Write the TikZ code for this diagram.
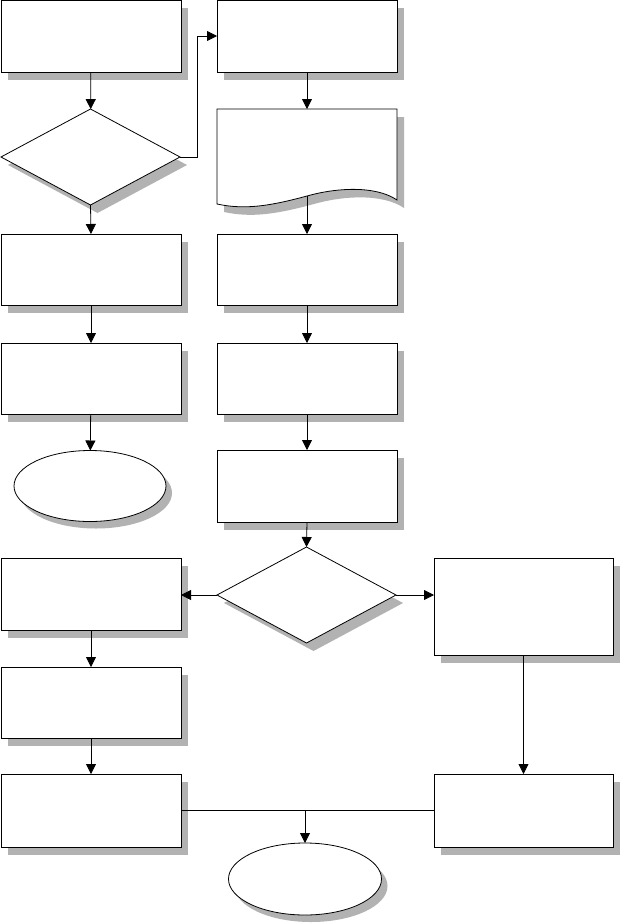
\documentclass[tikz,border=0pt]{standalone}
\usetikzlibrary{shapes.geometric,shadows,arrows.meta,calc}
\begin{document}
\begin{tikzpicture}[x=1pt,y=-1pt,
  shd/.style={drop shadow={shadow xshift=7pt,shadow yshift=-8pt,fill=black!30,opacity=1}},
  box/.style={draw=black,fill=white,line width=0.8pt,inner sep=0pt,outer sep=0pt,shd,minimum width=180pt,minimum height=72pt},
  dia/.style={draw=black,fill=white,line width=0.8pt,diamond,inner sep=0pt,outer sep=0pt,shd,minimum width=179pt,minimum height=96pt},
  oval/.style={draw=black,fill=white,line width=0.8pt,ellipse,inner sep=0pt,outer sep=0pt,drop shadow={shadow xshift=6pt,shadow yshift=-7pt,fill=black!30,opacity=1},minimum width=153pt,minimum height=72pt},
  conn/.style={line width=0.8pt},
  arr/.style={conn,-{Triangle[length=10pt,width=10pt]}}]
\fill[white] (0,0) rectangle (621,924);
\useasboundingbox (0,0) rectangle (621,924);
% document shape
\fill[black!30,shift={(7,8)}] (217,109) -- (397,109) -- (397,200)
  .. controls (375,185) and (335,188) .. (307,196)
  .. controls (270,206) and (245,210) .. (217,204) -- cycle;
\draw[fill=white,line width=0.8pt] (217,109) -- (397,109) -- (397,200)
  .. controls (375,185) and (335,188) .. (307,196)
  .. controls (270,206) and (245,210) .. (217,204) -- cycle;
\coordinate (docT) at (307,109);
\coordinate (docB) at (307,196);
% nodes
\node[box] (A) at (91,36) {};
\node[box] (B) at (307,36) {};
\node[dia] (D1) at (90.5,157) {};
\node[box,minimum height=71pt] (C1) at (91,269.5) {};
\node[box,minimum height=71pt] (C2) at (307,269.5) {};
\node[box,minimum height=71pt] (E1) at (91,378.5) {};
\node[box,minimum height=71pt] (E2) at (307,378.5) {};
\node[oval,minimum width=152pt,minimum height=71pt] (L) at (90,486) {};
\node[box] (F) at (307,486) {};
\node[dia] (D2) at (306.5,595) {};
\node[box] (G1) at (91,594) {};
\node[box,minimum width=179pt,minimum height=97pt] (G2) at (523.5,606.5) {};
\node[box,minimum height=71pt] (H1) at (91,702.5) {};
\node[box,minimum height=73pt] (I1) at (91,810.5) {};
\node[box,minimum width=179pt,minimum height=73pt] (I2) at (523.5,810.5) {};
\node[oval] (Z) at (305,879) {};
% connectors
\draw[arr] (A) -- (D1);
\draw[arr] (D1.east) -- ++(17,0) |- (B.west);
\draw[arr] (B.south) -- (docT);
\draw[arr] (D1.south) -- (C1.north);
\draw[arr] (docB) -- (C2.north);
\draw[arr] (C1) -- (E1);
\draw[arr] (C2) -- (E2);
\draw[arr] (E1) -- (L);
\draw[arr] (E2) -- (F);
\draw[arr] (F.south) -- (D2.north);
\draw[arr] (D2.west) -- (D2.west -| G1.east);
\draw[arr] (D2.east) -- (D2.east -| G2.west);
\draw[arr] (G1) -- (H1);
\draw[arr] (H1) -- (I1);
\draw[arr] (G2) -- (I2);
\draw[conn] (I1.east) -- (I2.west);
\coordinate (J) at (Z.north |- I1.east);
\draw[arr] (J) -- (Z.north);
\end{tikzpicture}
\end{document}
